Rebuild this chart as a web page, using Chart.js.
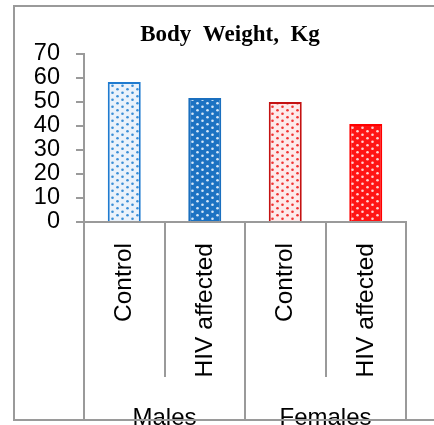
<!DOCTYPE html>
<html>
<head>
<meta charset="utf-8">
<script src="https://cdn.jsdelivr.net/npm/chart.js@4"></script>
<style>
html,body{margin:0;padding:0;background:#fff;}
#wrap{width:434px;height:425px;position:relative;}
</style>
</head>
<body>
<div id="wrap"><canvas id="c" width="434" height="425"></canvas></div>
<script>
// ---- data ----
const categories = ['Control', 'HIV affected', 'Control', 'HIV affected'];
const groups = ['Males', 'Females'];
const groupSizes = [2, 2];
const values = [58.3, 51.7, 50.0, 40.8];
const yTicks = [0, 10, 20, 30, 40, 50, 60, 70];
const chartTitle = 'Body  Weight,  Kg';

// ---- styles ----
const GRID = '#9a9a9a';
function makePattern(bg, dot) {
  const c = document.createElement('canvas');
  c.width = 10; c.height = 7;
  const g = c.getContext('2d');
  g.fillStyle = bg; g.fillRect(0, 0, 10, 7);
  g.fillStyle = dot;
  g.beginPath(); g.arc(2.5, 1.75, 1.3, 0, Math.PI * 2); g.fill();
  g.beginPath(); g.arc(7.5, 5.25, 1.3, 0, Math.PI * 2); g.fill();
  return g.createPattern(c, 'repeat');
}
const fills = [
  makePattern('#eaf2fb', '#3b8ed6'),
  makePattern('#1c72c2', '#d6e7f8'),
  makePattern('#fdeaea', '#f03434'),
  makePattern('#ff1414', '#ffd2d2')
];
const borders = ['#1f7bd0', '#1a6fbf', '#c41212', '#ff0000'];

const decor = {
  id: 'decor',
  afterLayout(chart) {
    const t = chart.titleBlock;
    if (t) { t.left = 54; t.right = 406; t.width = 352; }
  },
  afterDraw(chart) {
    const ctx = chart.ctx;
    const xs = chart.scales.x;
    const n = categories.length;
    const step = (xs.getPixelForValue(1) - xs.getPixelForValue(0));
    const bottomY = 420;
    const innerBottom = 377;
    const axisY = xs.top;
    ctx.save();
    ctx.strokeStyle = GRID;
    ctx.lineWidth = 2;
    // group labels
    ctx.fillStyle = '#000';
    ctx.font = '24px "Liberation Sans", Arial, sans-serif';
    ctx.textAlign = 'center';
    ctx.textBaseline = 'alphabetic';
    let idx = 0;
    const outer = [0];
    groups.forEach((gname, gi) => {
      const start = idx, end = idx + groupSizes[gi] - 1;
      const cx = (xs.getPixelForValue(start) + xs.getPixelForValue(end)) / 2;
      ctx.fillText(gname, cx, 425);
      idx += groupSizes[gi];
      outer.push(idx);
    });
    // dividers
    for (let i = 0; i <= n; i++) {
      const x = Math.round(xs.getPixelForValue(i) - step / 2);
      const isOuter = outer.includes(i);
      ctx.beginPath();
      ctx.moveTo(x, axisY);
      ctx.lineTo(x, isOuter ? bottomY : innerBottom);
      ctx.stroke();
    }
    // outer frame
    ctx.beginPath();
    ctx.moveTo(440, 6);
    ctx.lineTo(14, 6);
    ctx.lineTo(14, bottomY);
    ctx.lineTo(440, bottomY);
    ctx.stroke();
    ctx.restore();
  }
};

new Chart(document.getElementById('c'), {
  type: 'bar',
  data: {
    labels: categories,
    datasets: [{
      data: values,
      backgroundColor: fills,
      borderColor: borders,
      borderWidth: 2,
      barPercentage: 0.41,
      categoryPercentage: 1.0
    }]
  },
  options: {
    responsive: false,
    animation: false,
    devicePixelRatio: 1,
    layout: { padding: { left: 0, right: 28, top: 0, bottom: 0 } },
    plugins: {
      legend: { display: false },
      tooltip: { enabled: false },
      title: {
        display: true,
        text: chartTitle,
        color: '#000',
        font: { family: '"Liberation Serif", "Times New Roman", serif', size: 23, weight: 'bold', lineHeight: 1.2 },
        padding: { top: 21, bottom: 5.4 }
      }
    },
    scales: {
      x: {
        offset: true,
        grid: { display: false, drawTicks: false, offset: true },
        border: { display: true, color: GRID, width: 2 },
        ticks: {
          autoSkip: false, minRotation: 90, maxRotation: 90,
          padding: 21, color: '#000',
          font: { family: '"Liberation Sans", Arial, sans-serif', size: 24.5 }
        },
        afterFit(s) { s.height = 203; }
      },
      y: {
        min: 0, max: 70,
        afterBuildTicks(s) { s.ticks = yTicks.map(v => ({ value: v })); },
        grid: { drawOnChartArea: false, drawTicks: true, tickLength: 8, color: GRID, lineWidth: 2 },
        border: { display: true, color: GRID, width: 2 },
        ticks: {
          autoSkip: false,
          padding: 16, color: '#000',
          font: { family: '"Liberation Sans", Arial, sans-serif', size: 23.5 }
        },
        afterFit(s) { s.width = 84; }
      }
    }
  },
  plugins: [decor]
});
</script>
</body>
</html>
